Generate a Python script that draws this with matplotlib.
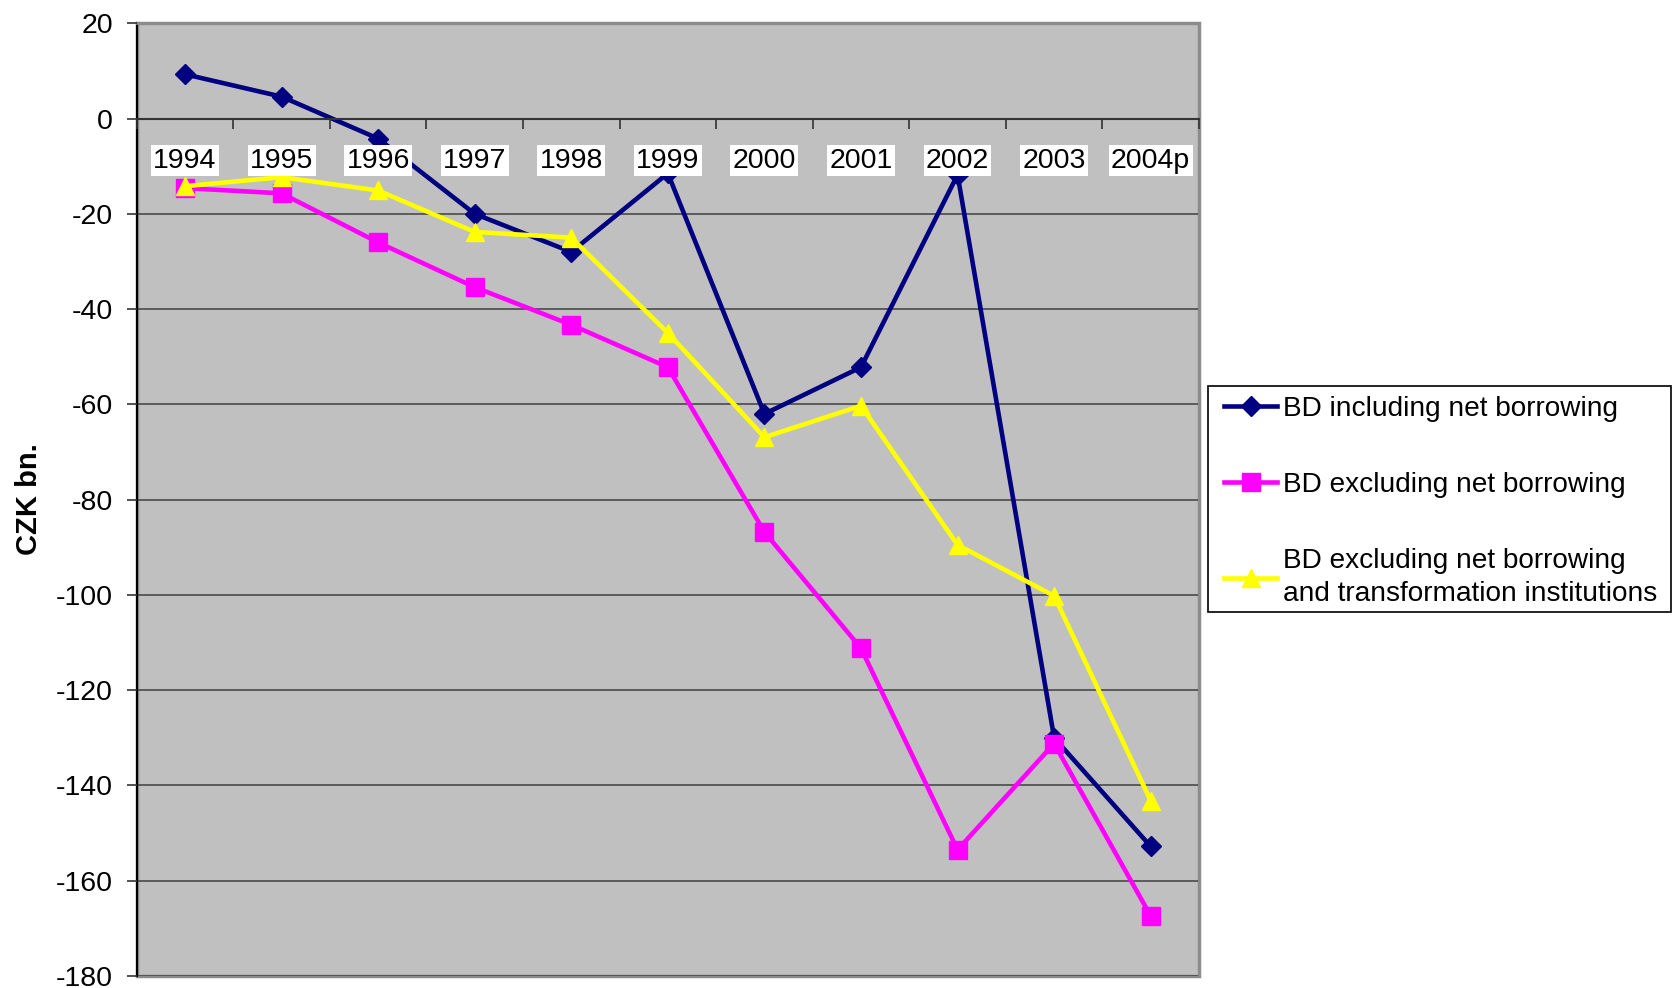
import matplotlib
matplotlib.use("Agg")
import matplotlib.pyplot as plt
from matplotlib.patches import Rectangle

plt.rcParams['font.family'] = ['Liberation Sans', 'DejaVu Sans']
plt.rcParams['axes.unicode_minus'] = False

years = ["1994", "1995", "1996", "1997", "1998", "1999", "2000", "2001", "2002", "2003", "2004p"]
bd_incl = [9.3, 4.6, -4.2, -20.0, -28.0, -11.5, -62.0, -52.2, -11.8, -130.0, -152.8]
bd_excl = [-14.6, -15.7, -26.0, -35.4, -43.3, -52.2, -86.8, -111.2, -153.5, -131.2, -167.4]
bd_excl_ti = [-14.2, -12.3, -15.1, -23.8, -25.0, -45.0, -66.9, -60.3, -89.5, -100.2, -143.2]

labels = ["BD including net borrowing",
          "BD excluding net borrowing",
          "BD excluding net borrowing\nand transformation institutions"]
yticks = list(range(-180, 21, 20))

FS = 20.5
LFS = 20.2

fig = plt.figure(figsize=(16.74, 9.88), dpi=100)
ax = fig.add_axes([136.7/1674, 1-976/988, (1199-136.7)/1674, (976-23.3)/988])
ax.set_facecolor('#C0C0C0')

x = list(range(len(years)))
ax.plot(x, bd_incl, color='#000080', lw=3.3, marker='D', ms=10, label=labels[0], zorder=2)
ax.plot(x, bd_excl, color='#FF00FF', lw=3.3, marker='s', ms=13, label=labels[1], zorder=2)
ax.plot(x, bd_excl_ti, color='#FFFF00', lw=3.3, marker='^', ms=13.5, label=labels[2], zorder=2)

ax.set_xlim(-0.5, len(years) - 0.5)
ax.set_ylim(-180, 20)

for v in yticks:
    ax.axhline(v, color='#4a4a4a', lw=1.2, zorder=1)

ax.set_axisbelow(False)
ax.set_yticks(yticks)
ax.tick_params(axis='y', direction='out', length=7, width=1.2, pad=10, labelsize=FS, color='#333333')

ax.spines['bottom'].set_position(('data', 0))
ax.spines['bottom'].set_color('#333333')
ax.spines['bottom'].set_linewidth(1.5)
ax.spines['left'].set_color('black')
ax.spines['left'].set_linewidth(1.5)
for s in ['top', 'right']:
    ax.spines[s].set_color('#8c8c8c')
    ax.spines[s].set_linewidth(2)
ax.add_patch(Rectangle((0, 0), 1, 1, transform=ax.transAxes, fill=False,
                       edgecolor='#8c8c8c', lw=2.5, clip_on=False, zorder=0.9))

ax.set_xticks(x)
ax.set_xticklabels(years)
ax.set_xticks([i - 0.5 for i in range(len(years) + 1)], minor=True)
ax.tick_params(axis='x', which='major', length=0, pad=21, labelsize=FS)
ax.tick_params(axis='x', which='minor', direction='out', length=7, width=1.2, color='#333333')
for lbl in ax.get_xticklabels():
    lbl.set_bbox(dict(facecolor='white', edgecolor='none', boxstyle='square,pad=0.08'))

fig.text(29/1674, 1-499.5/988, "CZK bn.", rotation=90, fontsize=21, fontweight='bold',
         ha='center', va='center')

# legend frame drawn separately, legend content anchored inside it
fig.add_artist(Rectangle((1208/1674, 1-612/988), (1671-1208)/1674, (612-386)/988,
                         transform=fig.transFigure, facecolor='white', edgecolor='black',
                         lw=1.2, zorder=1))
leg = fig.legend(loc='upper left', bbox_to_anchor=(1224/1674, 1-395.5/988),
                 fontsize=LFS, frameon=False,
                 labelspacing=1.8, handlelength=1.9, handletextpad=0.2,
                 borderpad=0, borderaxespad=0)
leg.set_zorder(2)
for t in leg.get_texts():
    t.set_linespacing(1.33)

fig.savefig("out.png", dpi=100, facecolor='white')
